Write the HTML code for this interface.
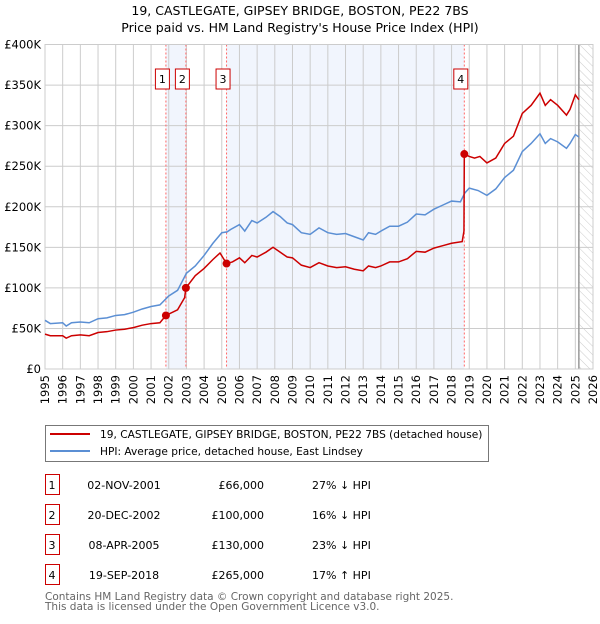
<!DOCTYPE html>
<html><head><meta charset="utf-8"><style>
body{margin:0;background:#fff;width:600px;height:620px;overflow:hidden;font-family:"DejaVu Sans","Liberation Sans",sans-serif;}
svg text{font-family:"DejaVu Sans","Liberation Sans",sans-serif;}
</style></head><body>
<svg id="chart" width="600" height="620" xmlns="http://www.w3.org/2000/svg">
<defs><pattern id="hatch" patternUnits="userSpaceOnUse" width="6" height="6" patternTransform="rotate(-45)"><line x1="0" y1="0" x2="0" y2="6" stroke="#ccc" stroke-width="1"/></pattern></defs>
<text x="300" y="15" text-anchor="middle" font-size="12.5" fill="#000">19, CASTLEGATE, GIPSEY BRIDGE, BOSTON, PE22 7BS</text>
<text x="300" y="32" text-anchor="middle" font-size="12.5" fill="#000">Price paid vs. HM Land Registry's House Price Index (HPI)</text>
<g id="plot"></g>
<g>
<rect x="45.5" y="425.5" width="443" height="36" fill="#fff" stroke="#777"/>
<line x1="50" y1="434" x2="90" y2="434" stroke="#cc0000" stroke-width="2"/>
<text x="100" y="438" font-size="10.6">19, CASTLEGATE, GIPSEY BRIDGE, BOSTON, PE22 7BS (detached house)</text>
<line x1="50" y1="451" x2="90" y2="451" stroke="#5b8fd4" stroke-width="2"/>
<text x="100" y="455" font-size="10.6">HPI: Average price, detached house, East Lindsey</text>
</g>
<g id="table"></g>
<text x="45" y="600" font-size="10.5" fill="#666">Contains HM Land Registry data © Crown copyright and database right 2025.</text>
<text x="45" y="610" font-size="10.5" fill="#666">This data is licensed under the Open Government Licence v3.0.</text>
</svg>
<script>
const hpiYears=[1995.0,1995.3,1996.0,1996.2,1996.5,1997.0,1997.5,1998.0,1998.5,1999.0,1999.5,2000.0,2000.5,2001.0,2001.5,2002.0,2002.5,2003.0,2003.5,2004.0,2004.5,2005.0,2005.3,2005.5,2006.0,2006.3,2006.7,2007.0,2007.5,2007.9,2008.3,2008.7,2009.0,2009.5,2010.0,2010.5,2011.0,2011.5,2012.0,2012.5,2013.0,2013.3,2013.7,2014.0,2014.5,2015.0,2015.5,2016.0,2016.5,2017.0,2017.5,2018.0,2018.5,2018.75,2019.0,2019.5,2020.0,2020.5,2021.0,2021.5,2022.0,2022.5,2023.0,2023.3,2023.6,2024.0,2024.5,2024.7,2025.0,2025.2];
const hpiValues=[60,56,57,53,57,58,57,62,63,66,67,70,74,77,79,90,97,118,127,140,155,168,169,172,178,170,183,180,187,194,188,180,178,168,166,174,168,166,167,163,159,168,166,170,176,176,181,191,190,197,202,207,206,217,223,220,214,222,236,245,268,278,290,278,284,280,272,278,289,286];
const redYears=[1995.0,1995.3,1996.0,1996.2,1996.5,1997.0,1997.5,1998.0,1998.5,1999.0,1999.5,2000.0,2000.5,2001.0,2001.5,2001.84,2002.5,2002.9,2002.97,2003.5,2004.0,2004.5,2004.9,2005.27,2005.6,2006.0,2006.3,2006.7,2007.0,2007.5,2007.9,2008.3,2008.7,2009.0,2009.5,2010.0,2010.5,2011.0,2011.5,2012.0,2012.5,2013.0,2013.3,2013.7,2014.0,2014.5,2015.0,2015.5,2016.0,2016.5,2017.0,2017.5,2018.0,2018.6,2018.7,2018.72,2019.0,2019.3,2019.6,2020.0,2020.5,2021.0,2021.5,2022.0,2022.5,2023.0,2023.3,2023.6,2024.0,2024.5,2024.7,2025.0,2025.2];
const redValues=[43,41,41,38,41,42,41,45,46,48,49,51,54,56,57,66,73,88,100,115,124,135,143,130,132,137,131,140,138,144,150,144,138,137,128,125,131,127,125,126,123,121,127,125,127,132,132,136,145,144,149,152,155,157,170,265,262,260,262,254,260,278,287,315,325,340,325,332,325,313,320,338,332];
const saleYears=[2001.84,2002.97,2005.27,2018.72];
const saleValues=[66,100,130,265];
const saleLabels=["1","2","3","4"];
const saleDates=["02-NOV-2001","20-DEC-2002","08-APR-2005","19-SEP-2018"];
const salePrices=["£66,000","£100,000","£130,000","£265,000"];
const saleHpi=["27% ↓ HPI","16% ↓ HPI","23% ↓ HPI","17% ↑ HPI"];
const yTicks=[0,50,100,150,200,250,300,350,400];
const yTickLabels=["£0","£50K","£100K","£150K","£200K","£250K","£300K","£350K","£400K"];
const xTicks=[1995,1996,1997,1998,1999,2000,2001,2002,2003,2004,2005,2006,2007,2008,2009,2010,2011,2012,2013,2014,2015,2016,2017,2018,2019,2020,2021,2022,2023,2024,2025,2026];
const dataEnd=2025.2;

const X0=45,X1=593,Y0=369,Y1=44.5;
const xs=y=>X0+(y-1995)/(2026-1995)*(X1-X0);
const ys=v=>Y0-v/400*(Y0-Y1);
const NS="http://www.w3.org/2000/svg";
const plot=document.getElementById('plot');
function mk(tag,attrs,parent){const e=document.createElementNS(NS,tag);for(const k in attrs)e.setAttribute(k,attrs[k]);(parent||plot).appendChild(e);return e;}

let b=mk('rect',{x:xs(saleYears[0]),y:Y1,width:xs(saleYears[1])-xs(saleYears[0]),height:Y0-Y1,fill:'#eef3fc',opacity:0.8});


b=mk('rect',{x:xs(saleYears[2]),y:Y1,width:xs(saleYears[3])-xs(saleYears[2]),height:Y0-Y1,fill:'#eef3fc',opacity:0.8});


let h=mk('rect',{x:xs(dataEnd),y:Y1,width:X1-xs(dataEnd),height:Y0-Y1,fill:'url(#hatch)'});


xTicks.forEach((t,i)=>{
 const g=mk('line',{x1:xs(t),y1:Y1,x2:xs(t),y2:Y0,stroke:'#ccc','stroke-width':1});
 
 
 const tx=mk('text',{x:0,y:0,'font-size':11.5,'text-anchor':'end',transform:`translate(${xs(t)+4},${Y0+6}) rotate(-90)`});
 tx.textContent=t;
 
 
});
yTicks.forEach((t,i)=>{
 const g=mk('line',{x1:X0,y1:ys(t),x2:X1,y2:ys(t),stroke:'#ccc','stroke-width':1});
 
 
 const tx=mk('text',{x:X0-4,y:ys(t)+4,'font-size':11.5,'text-anchor':'end'});
 tx.textContent=yTickLabels[i];
 
 
});
let vl=mk('line',{x1:xs(dataEnd),y1:Y1,x2:xs(dataEnd),y2:Y0,stroke:'#999','stroke-width':1.5});


saleYears.forEach((s,i)=>{
 const l=mk('line',{x1:xs(s),y1:Y1,x2:xs(s),y2:Y0,stroke:'#ff6666','stroke-width':1,'stroke-dasharray':'2,2'});
 
 
 const bx=xs(s)-3.5;
 const r=mk('rect',{x:bx-7,y:69,width:14,height:20,fill:'#fff',stroke:'#cc0000'});
 
 
 const t=mk('text',{x:bx,y:83,'font-size':11,'text-anchor':'middle'});
 t.textContent=saleLabels[i];
 
 
});
let ax=mk('rect',{x:X0,y:Y1,width:X1-X0,height:Y0-Y1,fill:'none',stroke:'#ccc'});


let hp=mk('polyline',{points:hpiYears.map((y,i)=>xs(y)+','+ys(hpiValues[i])).join(' '),fill:'none',stroke:'#5b8fd4','stroke-width':1.5});


let rp=mk('polyline',{points:redYears.map((y,i)=>xs(y)+','+ys(redValues[i])).join(' '),fill:'none',stroke:'#cc0000','stroke-width':1.5});


saleYears.forEach((s,i)=>{
 const c=mk('circle',{cx:xs(s),cy:ys(saleValues[i]),r:4,fill:'#cc0000'});
 
 
});
const tb=document.getElementById('table');
saleLabels.forEach((l,i)=>{
 const y=485+i*30;
 const r=mk('rect',{x:45.5,y:y-10.5,width:14,height:20,fill:'#fff',stroke:'#cc0000'},tb);
 
 
 const cells=[[52,l,'middle'],[124,saleDates[i],'middle'],[264,salePrices[i],'end'],[312,saleHpi[i],'start']];
 cells.forEach(c=>{
  const t=mk('text',{x:c[0],y:y+4,'font-size':11,'text-anchor':c[2]},tb);
  t.textContent=c[1];
  
  
 });
});
</script>
</body></html>
